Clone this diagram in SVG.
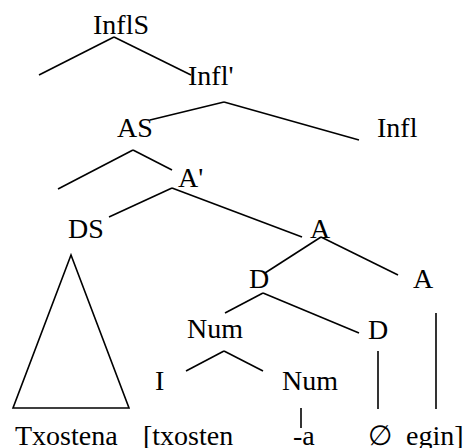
<svg xmlns="http://www.w3.org/2000/svg" width="471" height="448" viewBox="0 0 471 448" font-family="Liberation Serif, serif">
<style>
text{font-family:"Liberation Serif",serif;font-size:28px;fill:#000}
.e line,.e polygon{stroke:#000;stroke-width:1.6;fill:none}
</style>
<rect width="471" height="448" fill="#fff"/>
<g class="e" id="connectors">
<line x1="114" y1="37" x2="39" y2="75"/>
<line x1="114" y1="37" x2="191" y2="75"/>
<line x1="224" y1="102" x2="150" y2="120"/>
<line x1="224" y1="102" x2="359" y2="140"/>
<line x1="133" y1="150" x2="58" y2="189"/>
<line x1="133" y1="150" x2="172" y2="170"/>
<line x1="172" y1="188" x2="109" y2="217"/>
<line x1="172" y1="188" x2="302" y2="237"/>
<polygon points="71,255 13,408 129,408"/>
<line x1="321" y1="237" x2="265" y2="273"/>
<line x1="321" y1="237" x2="398" y2="275"/>
<line x1="263" y1="293" x2="225" y2="313"/>
<line x1="263" y1="293" x2="359" y2="333"/>
<line x1="224" y1="351" x2="186" y2="371"/>
<line x1="224" y1="351" x2="263" y2="371"/>
<line x1="378" y1="351" x2="378" y2="409"/>
<line x1="436" y1="313" x2="436" y2="409"/>
<line x1="301" y1="408" x2="301" y2="428"/>
</g>
<g id="InflS"><text x="93" y="34" style="font-family:'Liberation Serif',serif">InflS</text></g>
<g id="InflBar"><text x="188" y="85" style="font-family:'Liberation Serif',serif">Infl'</text></g>
<g id="AS"><text x="117" y="137" style="font-family:'Liberation Serif',serif">AS</text></g>
<g id="Infl"><text x="377" y="137" style="font-family:'Liberation Serif',serif">Infl</text></g>
<g id="ABar"><text x="178" y="187" style="font-family:'Liberation Serif',serif">A'</text></g>
<g id="DS"><text x="68" y="238" style="font-family:'Liberation Serif',serif">DS</text></g>
<g id="A1"><text x="310" y="238" style="font-family:'Liberation Serif',serif">A</text></g>
<g id="D1"><text x="249" y="288" style="font-family:'Liberation Serif',serif">D</text></g>
<g id="A2"><text x="413" y="288" style="font-family:'Liberation Serif',serif">A</text></g>
<g id="Num1"><text x="187" y="338" style="font-family:'Liberation Serif',serif">Num</text></g>
<g id="D2"><text x="368" y="339" style="font-family:'Liberation Serif',serif">D</text></g>
<g id="I"><text x="155" y="390" style="font-family:'Liberation Serif',serif">I</text></g>
<g id="Num2"><text x="282" y="390" style="font-family:'Liberation Serif',serif">Num</text></g>
<g id="words">
<text x="15" y="445" style="font-family:'Liberation Serif',serif">Txostena</text>
<text x="143" y="445" style="font-family:'Liberation Serif',serif">[txosten</text>
<text x="293" y="445" style="font-family:'Liberation Serif',serif">-a</text>
<text x="368" y="445" style="font-family:'Liberation Serif',serif">∅</text>
<text x="406" y="445" style="font-family:'Liberation Serif',serif">egin]</text>
</g>
</svg>
